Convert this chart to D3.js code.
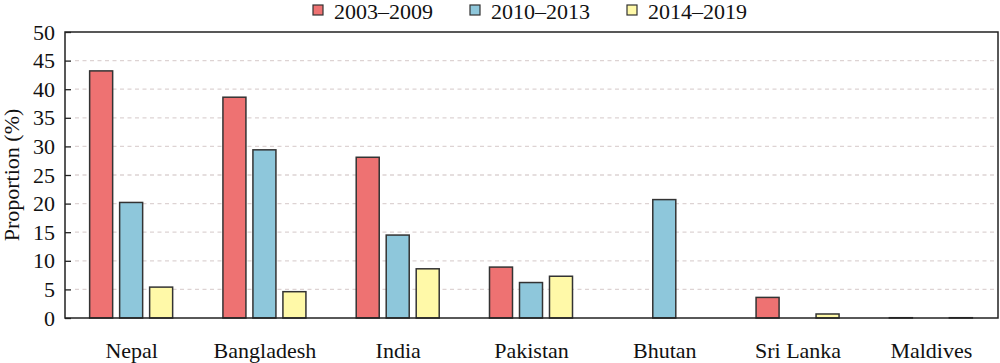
<!DOCTYPE html>
<html><head><meta charset="utf-8">
<script src="https://cdn.jsdelivr.net/npm/d3@7"></script>
<style>body{margin:0;background:#fff}svg text{font-family:"Times New Roman","Liberation Serif",Tinos,"DejaVu Serif",serif !important}</style>
</head><body><svg id="c" width="1000" height="363"></svg>
<script>
const categories = ["Nepal","Bangladesh","India","Pakistan","Bhutan","Sri Lanka","Maldives"];
const seriesNames = ["2003–2009","2010–2013","2014–2019"];
const s2003 = [43.2, 38.6, 28.1, 8.9, null, 3.6, 0.05];
const s2010 = [20.2, 29.4, 14.5, 6.2, 20.7, null, null];
const s2014 = [5.4, 4.6, 8.6, 7.3, null, 0.7, 0.05];
const yTicks = [0,5,10,15,20,25,30,35,40,45,50];
const colors = ["#EE7272","#8EC7DB","#FFF9A8"];

const series = [s2003, s2010, s2014];
const svg = d3.select("#c");
const L = 65, R = 998, T = 32, B = 318;
const x = d3.scaleBand().domain(categories).range([L, R]);
const xs = d3.scaleBand().domain([0,1,2]).range([-42, 41]).paddingInner(0.233);
const y = d3.scaleLinear().domain([0, 50]).range([B, T]);

svg.append("g").selectAll("line").data(yTicks.filter(v => v > 0 && v < 50)).join("line")
  .attr("x1", L + 10).attr("x2", R).attr("y1", d => y(d)).attr("y2", d => y(d))
  .attr("stroke", "#ddd3d3").attr("stroke-width", 1.3).attr("stroke-dasharray", "4,3.5");

const ya = d3.axisLeft(y).tickValues(yTicks).tickSize(-6).tickPadding(10).tickFormat(d3.format("d"));
const yg = svg.append("g").attr("transform", `translate(${L},0)`).call(ya);
yg.select(".domain").remove();
yg.selectAll(".tick line").attr("stroke", "#222").attr("stroke-width", 1.3);
yg.selectAll("text").attr("font-size", 22).attr("fill", "#111");

series.forEach((s, i) => {
  svg.append("g").selectAll("rect").data(categories.map((c, j) => ({c, v: s[j]})).filter(d => d.v != null)).join("rect")
    .attr("x", d => x(d.c) + x.bandwidth() / 2 + xs(i))
    .attr("width", xs.bandwidth())
    .attr("y", d => y(d.v))
    .attr("height", d => y(0) - y(d.v))
    .attr("fill", colors[i]).attr("stroke", "#333").attr("stroke-width", 1.5);
});

svg.append("rect").attr("x", L).attr("y", T).attr("width", R - L).attr("height", B - T)
  .attr("fill", "none").attr("stroke", "#222").attr("stroke-width", 1.5);

const xa = d3.axisBottom(x).tickSize(0).tickPadding(24);
const xg = svg.append("g").attr("transform", `translate(0,${B})`).call(xa);
xg.select(".domain").remove();
xg.selectAll("text").attr("font-size", 22).attr("fill", "#111");

svg.append("text").attr("transform", `translate(19,${(T + B) / 2}) rotate(-90)`)
  .attr("text-anchor", "middle").attr("font-size", 22).attr("fill", "#111").text("Proportion (%)");

const legX = [313, 470, 627];
const lg = svg.append("g").selectAll("g").data(seriesNames).join("g")
  .attr("transform", (d, i) => `translate(${legX[i]},0)`);
lg.append("rect").attr("y", 5).attr("width", 10).attr("height", 10).attr("fill", (d, i) => colors[i])
  .attr("stroke", "#333").attr("stroke-width", 1.2);
lg.append("text").attr("x", 21).attr("y", 19).attr("font-size", 22).attr("fill", "#111").text(d => d);
</script></body></html>
